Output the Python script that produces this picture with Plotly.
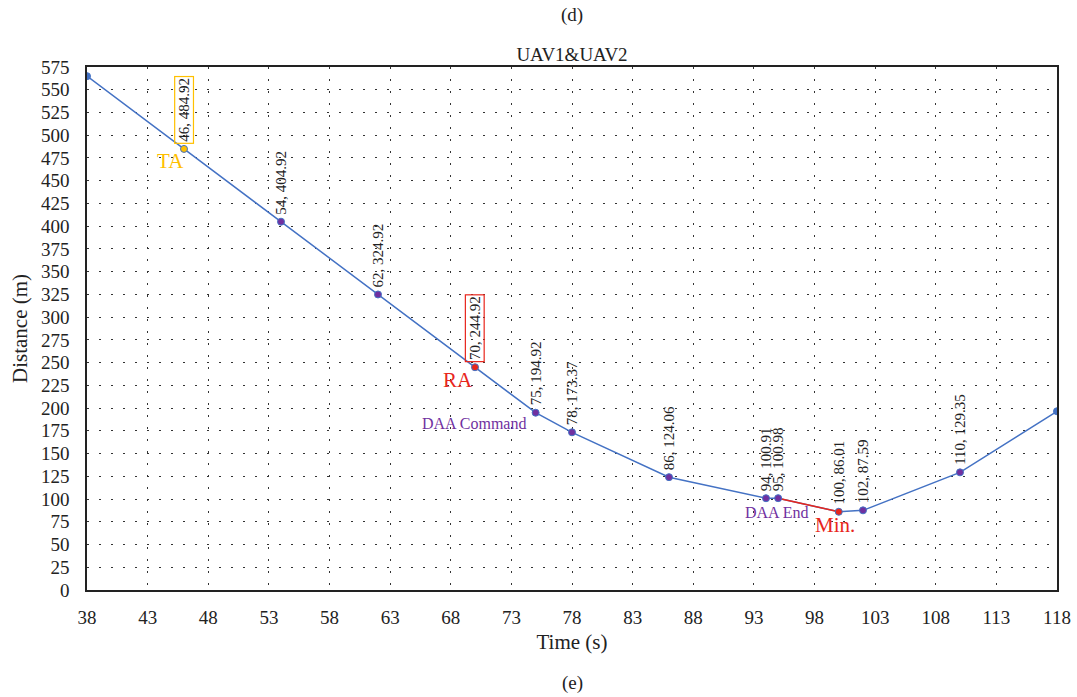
import plotly.graph_objects as go

times = [38, 46, 54, 62, 70, 75, 78, 86, 94, 95, 100, 102, 110, 118]
dist = [564.92, 484.92, 404.92, 324.92, 244.92, 194.92, 173.37, 124.06,
        100.91, 100.98, 86.01, 87.59, 129.35, 196.5]
labeled = [False, True, True, True, True, True, True, True, True, True, True, True, True, False]
red_seg_x = [95, 100]
red_seg_y = [100.98, 86.01]

x_ticks = list(range(38, 119, 5))
y_ticks = list(range(0, 576, 25))

BLUE = "#4472C4"
PURPLE = "#7030A0"
RED = "#E8261C"
ORANGE = "#FFC000"
FONT = "Liberation Serif"
INK = "#222222"

W, H = 1077, 697
ML, MR, MT, MB = 87, 20, 67, 107
PH = H - MT - MB

marker_colors = []
for t in times:
    if t == 46:
        marker_colors.append(ORANGE)
    elif t in (70, 100):
        marker_colors.append(RED)
    elif t in (38, 118):
        marker_colors.append(BLUE)
    else:
        marker_colors.append(PURPLE)

fig = go.Figure()
fig.add_trace(go.Scatter(x=times, y=dist, mode="lines",
                         line=dict(color=BLUE, width=1.5), hoverinfo="skip"))
fig.add_trace(go.Scatter(x=red_seg_x, y=red_seg_y, mode="lines",
                         line=dict(color=RED, width=1.5), hoverinfo="skip"))
fig.add_trace(go.Scatter(x=times, y=dist, mode="markers",
                         marker=dict(size=7, color=marker_colors,
                                     line=dict(color=BLUE, width=1))))

annotations = []
for t, d, lab in zip(times, dist, labeled):
    if not lab:
        continue
    box = None
    if t == 46:
        box = ORANGE
    elif t == 70:
        box = RED
    a = dict(x=t, y=d, xref="x", yref="y", text=f"{t}, {d:.2f}",
             textangle=-90, showarrow=False, xanchor="center", yanchor="bottom",
             yshift=5, font=dict(family=FONT, size=15, color=INK))
    if box:
        a.update(bordercolor=box, borderwidth=1.2, borderpad=1)
    annotations.append(a)

notes = [
    ("TA", 44.85, 472, ORANGE, 21),
    ("RA", 68.6, 231, RED, 21),
    ("DAA Command", 69.9, 183.6, PURPLE, 16),
    ("DAA End", 94.9, 84.7, PURPLE, 16),
    ("Min.", 99.7, 71.5, RED, 21),
]
for txt, x, y, c, s in notes:
    annotations.append(dict(x=x, y=y, xref="x", yref="y", text=txt, showarrow=False,
                            font=dict(family=FONT, size=s, color=c)))

annotations.append(dict(x=0.5, y=1 + (MT - 15) / PH, xref="paper", yref="paper",
                        text="(d)", showarrow=False, yanchor="middle",
                        font=dict(family=FONT, size=19, color=INK)))
annotations.append(dict(x=0.5, y=-(683 - (H - MB)) / PH, xref="paper", yref="paper",
                        text="(e)", showarrow=False, yanchor="middle",
                        font=dict(family=FONT, size=19, color=INK)))

fig.update_layout(
    width=W, height=H,
    margin=dict(l=ML, r=MR, t=MT, b=MB, autoexpand=False),
    paper_bgcolor="white", plot_bgcolor="white",
    showlegend=False,
    font=dict(family=FONT, size=19, color=INK),
    title=dict(text="UAV1&UAV2", x=0.5, xref="paper", xanchor="center",
               y=1 - 54 / H, yanchor="middle",
               font=dict(family=FONT, size=19, color=INK)),
    annotations=annotations,
)

grid = dict(showgrid=True, gridcolor="#333333", gridwidth=1, griddash="1.5px,10.5px",
            zeroline=False, showline=True, linecolor=INK, linewidth=1.5, mirror=True,
            ticks="", automargin=False)
fig.update_xaxes(range=[38, 118], tickvals=x_ticks, ticklabelstandoff=9,
                 tickfont=dict(family=FONT, size=19, color=INK),
                 title=dict(text="Time (s)", font=dict(family=FONT, size=21, color=INK), standoff=8),
                 **grid)
fig.update_yaxes(range=[0, 575], tickvals=y_ticks, ticklabelstandoff=12,
                 tickfont=dict(family=FONT, size=19, color=INK),
                 title=dict(text="Distance (m)", font=dict(family=FONT, size=21, color=INK), standoff=8),
                 **grid)

fig.write_html("out.html", config={"displayModeBar": False},
               post_script="document.body.style.margin='0';document.body.style.overflow='hidden';")
